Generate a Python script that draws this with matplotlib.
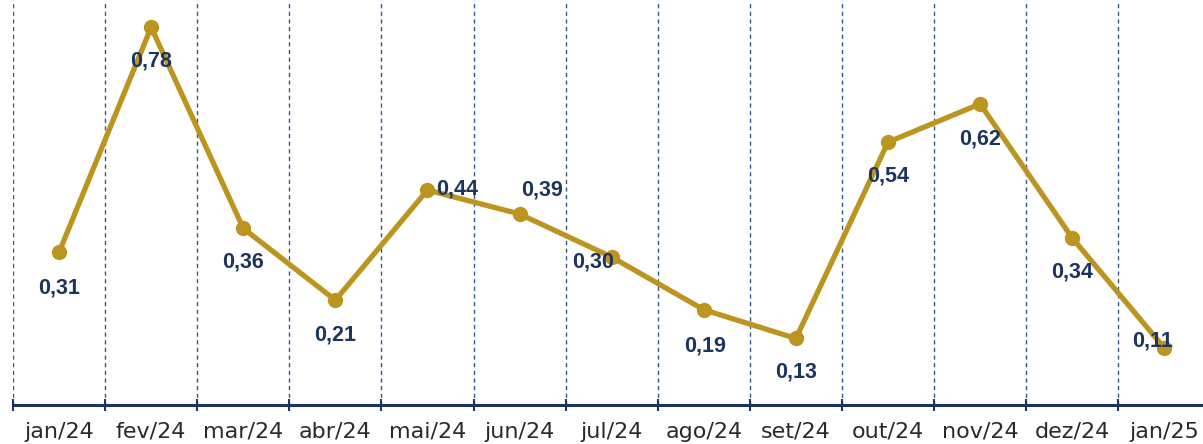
import matplotlib
matplotlib.use("Agg")
import matplotlib.pyplot as plt

months = ["jan/24", "fev/24", "mar/24", "abr/24", "mai/24", "jun/24", "jul/24",
          "ago/24", "set/24", "out/24", "nov/24", "dez/24", "jan/25"]
values = [0.31, 0.78, 0.36, 0.21, 0.44, 0.39, 0.30, 0.19, 0.13, 0.54, 0.62, 0.34, 0.11]
labels = ["0,31", "0,78", "0,36", "0,21", "0,44", "0,39", "0,30",
          "0,19", "0,13", "0,54", "0,62", "0,34", "0,11"]
# label offsets in pixels (dx, dy)
offsets = [(0, -36), (0, -34), (0, -34), (0, -35), (30, 1), (22, 24), (-19, -5),
           (1, -36), (0, -34), (0, -34), (0, -35), (0, -34), (-12, 7)]

gold = "#BC9420"
navy = "#1B355E"

fig = plt.figure(figsize=(12.03, 4.44), dpi=100)
ax = fig.add_axes([13 / 1203, 39 / 444, 1 - 13 / 1203, 405 / 444])

x = list(range(len(months)))
ax.plot(x, values, color=gold, lw=3.8, marker="o", ms=10, zorder=3,
        solid_capstyle="round", solid_joinstyle="round")

for i, (v, lab, off) in enumerate(zip(values, labels, offsets)):
    ax.annotate(lab, (i, v), xytext=off, textcoords="offset pixels",
                ha="center", va="center", fontsize=15.5, fontweight="bold",
                color=navy, family="Liberation Sans", zorder=4)

bounds = [i - 0.5 for i in range(len(months))]
for b in bounds:
    ax.axvline(b, color="#2F5A8A", lw=1, ls=(0, (3, 2.5)), zorder=1)

ax.set_xlim(-0.5, 12.42)
ax.set_ylim(-0.009, 0.837)
ax.set_yticks([])
ax.set_xticks(bounds)
ax.set_xticklabels([])
ax.set_xticks(x, minor=True)
ax.set_xticklabels(months, minor=True, fontsize=16, color="#2a2a2a",
                   family="DejaVu Sans")
ax.tick_params(axis="x", which="minor", length=0, pad=12)
ax.tick_params(axis="x", which="major", direction="inout", length=8,
               width=1.5, color=navy)

for s in ["top", "right", "left"]:
    ax.spines[s].set_visible(False)
ax.spines["bottom"].set_color(navy)
ax.spines["bottom"].set_linewidth(2.2)

fig.savefig("out.png", dpi=100)
